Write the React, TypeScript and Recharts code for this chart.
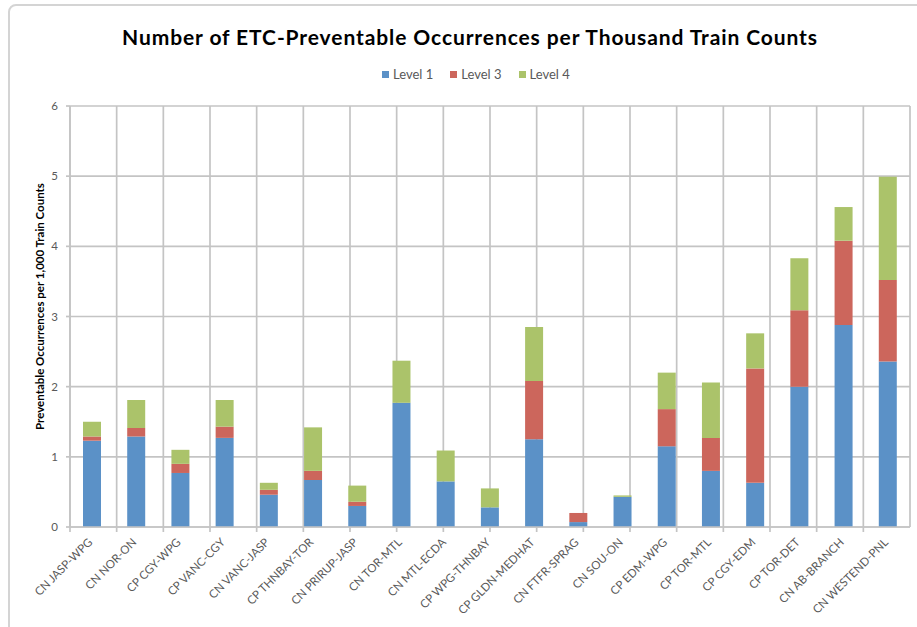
import React from "react";
import {
  BarChart,
  Bar,
  XAxis,
  YAxis,
  CartesianGrid,
} from "recharts";

const routes = [
  "CN JASP-WPG",
  "CN NOR-ON",
  "CP CGY-WPG",
  "CP VANC-CGY",
  "CN VANC-JASP",
  "CP THNBAY-TOR",
  "CN PRIRUP-JASP",
  "CN TOR-MTL",
  "CN MTL-ECDA",
  "CP WPG-THNBAY",
  "CP GLDN-MEDHAT",
  "CN FTFR-SPRAG",
  "CN SOU-ON",
  "CP EDM-WPG",
  "CP TOR-MTL",
  "CP CGY-EDM",
  "CP TOR-DET",
  "CN AB-BRANCH",
  "CN WESTEND-PNL",
];

const level1 = [1.23, 1.29, 0.77, 1.27, 0.46, 0.67, 0.3, 1.77, 0.65, 0.28, 1.25, 0.07, 0.43, 1.15, 0.8, 0.63, 2.0, 2.88, 2.36];
const level3 = [0.06, 0.12, 0.13, 0.16, 0.07, 0.13, 0.06, 0, 0, 0, 0.83, 0.13, 0, 0.53, 0.47, 1.63, 1.09, 1.2, 1.16];
const level4 = [0.21, 0.4, 0.2, 0.38, 0.1, 0.62, 0.23, 0.6, 0.44, 0.27, 0.77, 0, 0.02, 0.52, 0.79, 0.5, 0.74, 0.48, 1.47];

const yTicks = [0, 1, 2, 3, 4, 5, 6];
const boundaryTicks = routes.map((_, i) => i).concat(routes.length);

const series = [
  { key: "level1", name: "Level 1", color: "#5b91c7" },
  { key: "level3", name: "Level 3", color: "#cc665c" },
  { key: "level4", name: "Level 4", color: "#abc36a" },
];

const data = routes.map((route, i) => ({
  route,
  level1: level1[i],
  level3: level3[i],
  level4: level4[i],
}));

const FONT = "Lato, 'Open Sans', sans-serif";
const GRID = "#c4c4c4";
const TEXT = "#595959";

// plot box
const TOP = 106;
const BOTTOM_AXIS = 100;
const H = 627;

function XTick(props: any) {
  const { x, y, payload } = props;
  const tx = x + 1;
  const ty = y + 2;
  return (
    <text
      x={tx}
      y={ty}
      transform={`rotate(-45, ${tx}, ${ty})`}
      textAnchor="end"
      fontSize={11.5}
      fill={TEXT}
      fontFamily={FONT}
    >
      {payload.value}
    </text>
  );
}

export default function App() {
  return (
    <div style={{ position: "absolute", left: 0, top: 0, width: 917, height: 627, background: "#fff", overflow: "hidden" }}>
      {/* chart frame */}
      <div
        style={{
          position: "absolute",
          left: 8,
          top: 4,
          width: 940,
          height: 700,
          border: "2px solid #d4d4d4",
          borderRadius: 8,
        }}
      />
      <div
        style={{
          position: "absolute",
          left: 0,
          top: 24,
          width: 940,
          textAlign: "center",
          fontFamily: FONT,
          fontWeight: 700,
          fontSize: 21,
          letterSpacing: 0.9,
          color: "#000",
        }}
      >
        Number of ETC-Preventable Occurrences per Thousand Train Counts
      </div>
      {/* legend */}
      <div
        style={{
          position: "absolute",
          left: 382,
          top: 66,
          display: "flex",
          gap: 17,
          fontFamily: FONT,
          fontSize: 13,
          color: TEXT,
        }}
      >
        {series.map((s) => (
          <div key={s.key} style={{ display: "flex", alignItems: "center" }}>
            <span style={{ width: 7, height: 7, background: s.color, display: "inline-block", marginRight: 4 }} />
            {s.name}
          </div>
        ))}
      </div>
      <div style={{ position: "absolute", left: 0, top: 0 }}>
        <BarChart
          width={917}
          height={H}
          data={data}
          margin={{ top: TOP, right: 7, bottom: 0, left: 0 }}
          barSize={18}
        >
          <CartesianGrid
            xAxisId="a"
            stroke={GRID}
            strokeWidth={1.7}
            y={TOP}
            height={H - TOP - BOTTOM_AXIS}
          />
          <XAxis
            xAxisId="a"
            type="number"
            domain={[0, routes.length]}
            ticks={boundaryTicks}
            allowDataOverflow
            height={6}
            tickSize={5}
            stroke={GRID}
            strokeWidth={1.7}
            tick={() => <g />}
          />
          <XAxis
            xAxisId="b"
            dataKey="route"
            height={BOTTOM_AXIS - 6}
            axisLine={false}
            tickLine={false}
            interval={0}
            tick={<XTick />}
          />
          <YAxis
            width={70}
            domain={[0, 6]}
            ticks={yTicks}
            tickSize={4}
            stroke={GRID}
            strokeWidth={1.7}
            tick={{ fill: TEXT, fontSize: 11.5, fontFamily: FONT, dx: -6 }}
            label={{
              value: "Preventable Occurrences per 1,000 Train Counts",
              angle: -90,
              position: "insideLeft",
              dx: 35,
              dy: -10,
              style: { textAnchor: "middle", fontSize: 11.5, fontWeight: 700, fontFamily: FONT, fill: "#000" },
            }}
          />
          {series.map((s) => (
            <Bar
              key={s.key}
              xAxisId="b"
              dataKey={s.key}
              name={s.name}
              stackId="a"
              fill={s.color}
              isAnimationActive={false}
            />
          ))}
        </BarChart>
      </div>
    </div>
  );
}
